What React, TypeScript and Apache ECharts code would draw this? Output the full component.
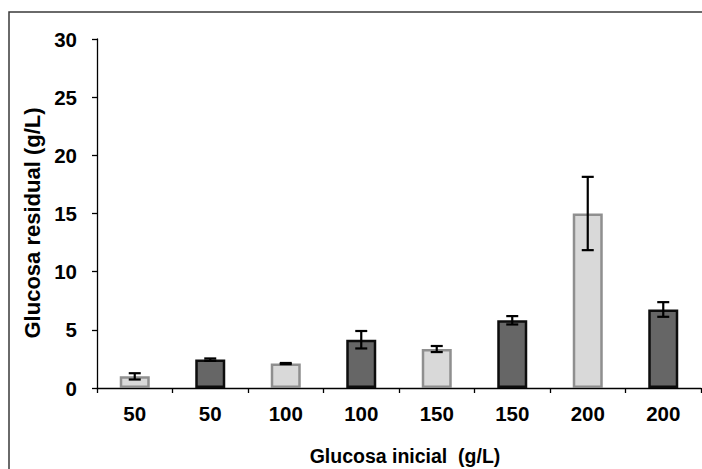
import React, { useEffect, useRef } from "react";
import * as echarts from "echarts";

// Initial glucose (g/L) for each fermentation, two runs per level
const categories = ["50", "50", "100", "100", "150", "150", "200", "200"];
// Residual glucose (g/L), mean of replicates
const residual = [1.0, 2.44, 2.1, 4.15, 3.35, 5.82, 15.0, 6.75];
// Standard deviation of residual glucose (g/L)
const deviation = [0.27, 0.1, 0.05, 0.75, 0.26, 0.36, 3.15, 0.63];

const yMin = 0;
const yMax = 30;
const yStep = 5;

const FONT = "'Liberation Sans', Arial, sans-serif";

const lightBar = { color: "#d9d9d9", borderColor: "#8f8f8f", borderWidth: 2.5 };
const darkBar = { color: "#666666", borderColor: "#0d0d0d", borderWidth: 2.5 };

export default function App() {
  const ref = useRef<HTMLDivElement>(null);

  useEffect(() => {
    document.body.style.margin = "0";
    if (!ref.current) return;
    const chart = echarts.init(ref.current, null, { renderer: "svg" });

    const errorSeriesData = residual.map((v, i) => [i, v, deviation[i]]);

    chart.setOption({
      animation: false,
      backgroundColor: "#ffffff",
      grid: { left: 97, right: 1, top: 39, bottom: 81, containLabel: false },
      xAxis: {
        type: "category",
        data: categories,
        axisLine: { lineStyle: { color: "#000", width: 1.3 } },
        axisTick: { show: true, length: 5, alignWithLabel: false, lineStyle: { color: "#000", width: 1.3 } },
        axisLabel: {
          interval: 0,
          margin: 15,
          color: "#000",
          fontFamily: FONT,
          fontWeight: "bold",
          fontSize: 20.5,
        },
        splitLine: { show: false },
      },
      yAxis: {
        type: "value",
        min: yMin,
        max: yMax,
        interval: yStep,
        axisLine: { show: true, lineStyle: { color: "#000", width: 1.3 } },
        axisTick: { show: true, length: 5, lineStyle: { color: "#000", width: 1.3 } },
        axisLabel: {
          margin: 20,
          color: "#000",
          fontFamily: FONT,
          fontWeight: "bold",
          fontSize: 20.5,
        },
        splitLine: { show: false },
      },
      series: [
        {
          type: "bar",
          barWidth: 30,
          data: residual.map((v, i) => ({
            value: v,
            itemStyle: i % 2 === 0 ? lightBar : darkBar,
          })),
          z: 2,
        },
        {
          type: "custom",
          z: 5,
          data: errorSeriesData,
          encode: { x: 0, y: 1 },
          renderItem: (params: any, api: any) => {
            const x = api.value(0);
            const v = api.value(1);
            const e = api.value(2);
            const hi = api.coord([x, v + e]);
            const lo = api.coord([x, v - e]);
            const hw = 6;
            const st = { stroke: "#000", lineWidth: 2.2 };
            return {
              type: "group",
              children: [
                { type: "line", shape: { x1: hi[0], y1: hi[1], x2: lo[0], y2: lo[1] }, style: st },
                { type: "line", shape: { x1: hi[0] - hw, y1: hi[1], x2: hi[0] + hw, y2: hi[1] }, style: st },
                { type: "line", shape: { x1: lo[0] - hw, y1: lo[1], x2: lo[0] + hw, y2: lo[1] }, style: st },
              ],
            };
          },
        },
      ],
      graphic: [
        {
          type: "rect",
          z: -10,
          shape: { x: 9, y: 12, width: 760, height: 520 },
          style: { fill: "none", stroke: "#3a3a3a", lineWidth: 1.5 },
        },
        {
          type: "text",
          x: 405,
          y: 456,
          style: {
            text: "Glucosa inicial  (g/L)",
            fill: "#000",
            font: `bold 19.5px ${FONT}`,
            align: "center",
            verticalAlign: "middle",
          },
        },
        {
          type: "text",
          x: 32,
          y: 223,
          rotation: Math.PI / 2,
          style: {
            text: "Glucosa residual (g/L)",
            fill: "#000",
            font: `bold 22px ${FONT}`,
            align: "center",
            verticalAlign: "middle",
          },
        },
      ],
    });

    return () => chart.dispose();
  }, []);

  return <div ref={ref} style={{ width: 702, height: 469 }} />;
}
